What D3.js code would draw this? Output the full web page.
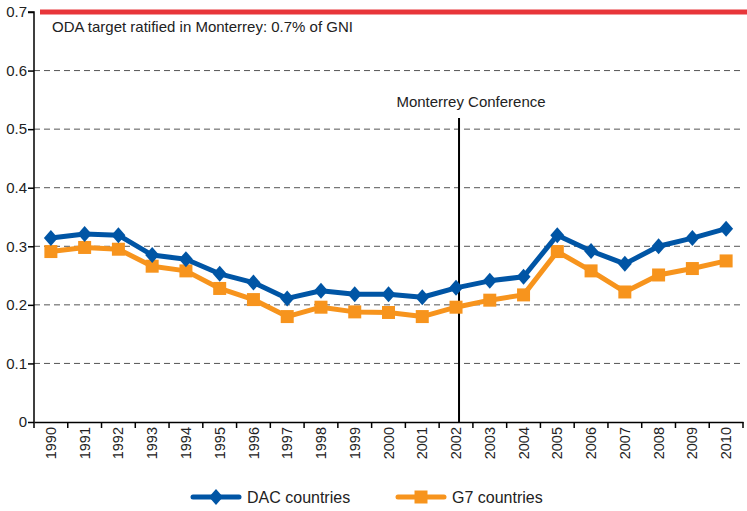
<!DOCTYPE html>
<html><head><meta charset="utf-8">
<script src="https://cdn.jsdelivr.net/npm/d3@7"></script>
<style>body{margin:0;background:#fff}svg{display:block;font-family:"Liberation Sans",Arial,sans-serif}</style>
</head><body><svg id="c" width="747" height="511"></svg>
<script>
const years = ["1990","1991","1992","1993","1994","1995","1996","1997","1998","1999","2000","2001","2002","2003","2004","2005","2006","2007","2008","2009","2010"];
const dac = [0.314,0.321,0.319,0.285,0.278,0.253,0.238,0.211,0.224,0.218,0.218,0.213,0.229,0.241,0.248,0.319,0.292,0.270,0.300,0.314,0.330];
const g7  = [0.291,0.298,0.295,0.266,0.258,0.228,0.209,0.180,0.196,0.188,0.187,0.180,0.196,0.208,0.217,0.291,0.258,0.222,0.251,0.262,0.275];
const yTicks = [0,0.1,0.2,0.3,0.4,0.5,0.6,0.7];
const target = 0.7;
const eventYear = "2002";

const svg = d3.select("#c");
const L = 34, R = 743, T = 12, B = 422;
const x = d3.scaleBand().domain(years).range([L, R]);
const y = d3.scaleLinear().domain([0, 0.7]).range([B, T]);
const FF = "Liberation Sans, Arial, sans-serif";

// gridlines
svg.append("g").selectAll("line").data(yTicks.filter(d => d > 0 && d < 0.7)).join("line")
  .attr("x1", L).attr("x2", R).attr("y1", d => y(d)).attr("y2", d => y(d))
  .attr("stroke", "#555").attr("stroke-width", 1).attr("stroke-dasharray", "6,4");

// y axis
const ya = svg.append("g").attr("transform", `translate(${L},0)`)
  .call(d3.axisLeft(y).tickValues(yTicks).tickSize(6).tickFormat(d => d === 0 ? "0" : d3.format(".1f")(d)));
ya.select(".domain").attr("stroke", "#000").attr("stroke-width", 1.5).attr("d", `M-6,${T}H0V${B}`);
ya.selectAll(".tick line").attr("stroke", "#000").attr("stroke-width", 1.5);
ya.selectAll(".tick text").attr("font-size", 15).attr("fill", "#222").attr("x", -7).attr("font-family", FF);

// x axis
const xa = svg.append("g").attr("transform", `translate(0,${B})`)
  .call(d3.axisBottom(x).tickSize(0));
xa.select(".domain").attr("stroke", "#000").attr("stroke-width", 1.5);
xa.selectAll(".tick text").attr("font-size", 14.5).attr("fill", "#222").attr("font-family", FF)
  .attr("transform", "rotate(-90)").attr("text-anchor", "end").attr("x", -5).attr("y", 0).attr("dy", "0.35em");
// boundary ticks
svg.append("g").selectAll("line").data(years.map(d => x(d)).concat([R])).join("line")
  .attr("x1", d => d).attr("x2", d => d).attr("y1", B).attr("y2", B + 6)
  .attr("stroke", "#000").attr("stroke-width", 1.5);

// target line
svg.append("line").attr("x1", 40).attr("x2", 747).attr("y1", y(target)).attr("y2", y(target))
  .attr("stroke", "#e8363a").attr("stroke-width", 5);
svg.append("text").attr("x", 52).attr("y", 32).attr("font-size", 15).attr("fill", "#222")
  .text("ODA target ratified in Monterrey: 0.7% of GNI");

// event line
const ex = x(eventYear) + x.bandwidth() / 2 + 3;
svg.append("line").attr("x1", ex).attr("x2", ex).attr("y1", 118).attr("y2", B)
  .attr("stroke", "#000").attr("stroke-width", 2);
svg.append("text").attr("x", ex + 12).attr("y", 107).attr("font-size", 15).attr("fill", "#222")
  .attr("text-anchor", "middle").text("Monterrey Conference");

const cx = d => x(d) + x.bandwidth() / 2;
const line = d3.line().x(d => cx(d[0])).y(d => y(d[1]));

function series(vals, color, shape) {
  const data = years.map((yr, i) => [yr, vals[i]]);
  svg.append("path").datum(data).attr("d", line).attr("fill", "none")
    .attr("stroke", color).attr("stroke-width", 5).attr("stroke-linejoin", "round");
  svg.append("g").selectAll("path").data(data).join("path")
    .attr("transform", d => `translate(${cx(d[0])},${y(d[1])})`)
    .attr("d", shape).attr("fill", color);
}
const diamond = "M0,-8L7,0L0,8L-7,0Z";
const square = "M-6.5,-6.5H6.5V6.5H-6.5Z";
series(g7, "#f7941d", square);
series(dac, "#0055a5", diamond);

// legend
const lg = [["DAC countries", "#0055a5", diamond, 193], ["G7 countries", "#f7941d", square, 398]];
lg.forEach(([name, color, shape, lx]) => {
  svg.append("line").attr("x1", lx).attr("x2", lx + 46).attr("y1", 497).attr("y2", 497)
    .attr("stroke", color).attr("stroke-width", 5).attr("stroke-linecap", "round");
  svg.append("path").attr("d", shape).attr("transform", `translate(${lx + 23},497)`).attr("fill", color);
  svg.append("text").attr("x", lx + 54).attr("y", 503).attr("font-size", 16).attr("fill", "#222").text(name);
});
</script></body></html>
